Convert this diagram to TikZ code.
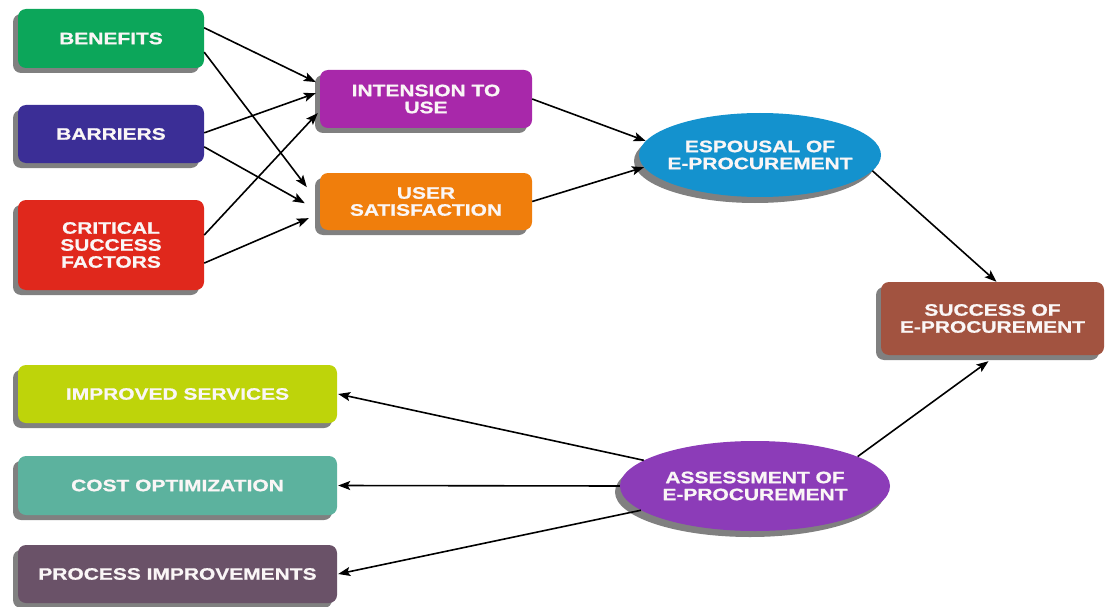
\documentclass[tikz,border=0pt]{standalone}
\usepackage{fontspec}
\newfontfamily\boxfont[FakeStretch=1.27, FakeBold=0.9]{Liberation Sans}
\usepackage{xcolor}
\usetikzlibrary{calc, shapes.geometric, shadows, arrows.meta}

\definecolor{benefitsgreen}{RGB}{12,166,90}
\definecolor{barriersblue}{RGB}{59,46,150}
\definecolor{csfred}{RGB}{224,40,28}
\definecolor{intensionpurple}{RGB}{168,40,170}
\definecolor{userorange}{RGB}{240,126,12}
\definecolor{espousalblue}{RGB}{20,146,206}
\definecolor{successbrown}{RGB}{162,83,64}
\definecolor{improvedlime}{RGB}{190,212,10}
\definecolor{costteal}{RGB}{92,178,158}
\definecolor{processplum}{RGB}{106,82,104}
\definecolor{assessviolet}{RGB}{140,60,184}
\definecolor{shadowgray}{RGB}{128,128,128}
\definecolor{labelwhite}{RGB}{250,246,246}

\begin{document}
\begin{tikzpicture}[x=1pt, y=-1pt,
  boxtext/.style={text=labelwhite, align=center,
    font=\boxfont\bfseries\fontsize{16.5}{17}\selectfont},
  box/.style={boxtext, rounded corners=8pt, inner sep=0pt,
    drop shadow={shadow xshift=-5pt, shadow yshift=-5pt, fill=shadowgray, opacity=1}},
  oval/.style={boxtext, ellipse, inner xsep=-20pt, inner ysep=0pt,
    drop shadow={shadow xshift=-5pt, shadow yshift=-6pt, fill=shadowgray, opacity=1}},
  link/.style={-{Stealth[length=12pt, width=9pt, inset=2.5pt]}, line width=1.6pt}]

\useasboundingbox (0,0) rectangle (1105,607);

% Factors on the left
\node[box, fill=benefitsgreen, minimum width=186pt, minimum height=59pt] (benefits) at (111,38.5) {BENEFITS};
\node[box, fill=barriersblue, minimum width=186pt, minimum height=58pt] (barriers) at (111,134) {BARRIERS};
\node[box, fill=csfred, minimum width=186pt, minimum height=90pt] (csf) at (111,245) {CRITICAL\\SUCCESS\\FACTORS};

% Middle column
\node[box, fill=intensionpurple, minimum width=212pt, minimum height=58pt] (intension) at (426,99) {INTENSION TO\\USE};
\node[box, fill=userorange, minimum width=212pt, minimum height=57pt] (usersat) at (426,201.5) {USER\\SATISFACTION};

% Espousal and success
\node[oval, fill=espousalblue, minimum width=242pt, minimum height=84pt] (espousal) at (760,155) {ESPOUSAL OF\\E-PROCUREMENT};
\node[box, fill=successbrown, minimum width=223pt, minimum height=73pt] (success) at (992.5,318.5) {SUCCESS OF\\E-PROCUREMENT};

% Assessment and its outcomes
\node[oval, fill=assessviolet, minimum width=270pt, minimum height=90pt] (assess) at (755,486) {ASSESSMENT OF\\E-PROCUREMENT};
\node[box, fill=improvedlime, minimum width=319pt, minimum height=58pt] (improved) at (177.5,394) {IMPROVED SERVICES};
\node[box, fill=costteal, minimum width=319pt, minimum height=59pt] (cost) at (177.5,485.5) {COST OPTIMIZATION};
\node[box, fill=processplum, minimum width=319pt, minimum height=58pt] (process) at (177.5,574) {PROCESS IMPROVEMENTS};

% Factors to intension and satisfaction
\draw[link] ($(benefits.north east)!.32!(benefits.south east)$) -- ($(intension.north west)!.21!(intension.south west)+(-4,0)$);
\draw[link] ($(benefits.north east)!.73!(benefits.south east)$) -- ($(usersat.north west)!.25!(usersat.south west)+(-13,0)$);
\draw[link] ($(barriers.north east)!.48!(barriers.south east)$) -- ($(intension.north west)!.40!(intension.south west)+(-4,0)$);
\draw[link] ($(barriers.north east)!.72!(barriers.south east)$) -- ($(usersat.north west)!.53!(usersat.south west)+(-15,0)$);
\draw[link] ($(csf.north east)!.39!(csf.south east)$) -- ($(intension.north west)!.74!(intension.south west)+(-2,0)$);
\draw[link] ($(csf.north east)!.70!(csf.south east)$) -- ($(usersat.north west)!.79!(usersat.south west)+(-11,0)$);

% Into espousal, then success
\draw[link] (intension.east) -- (espousal.173);
\draw[link] (usersat.east) -- (espousal.186);
\draw[link] (espousal.-8) -- ([xshift=4pt]success.north);
\draw[link] (assess.16) -- ([xshift=-4pt, yshift=-6pt]success.south);

% Assessment outcomes
\draw[link] (assess.167) -- ([xshift=1pt]improved.east);
\draw[link] (assess.west) -- ([xshift=1pt]cost.east);
\draw[link] (assess.192) -- ([xshift=1pt]process.east);

\end{tikzpicture}
\end{document}
